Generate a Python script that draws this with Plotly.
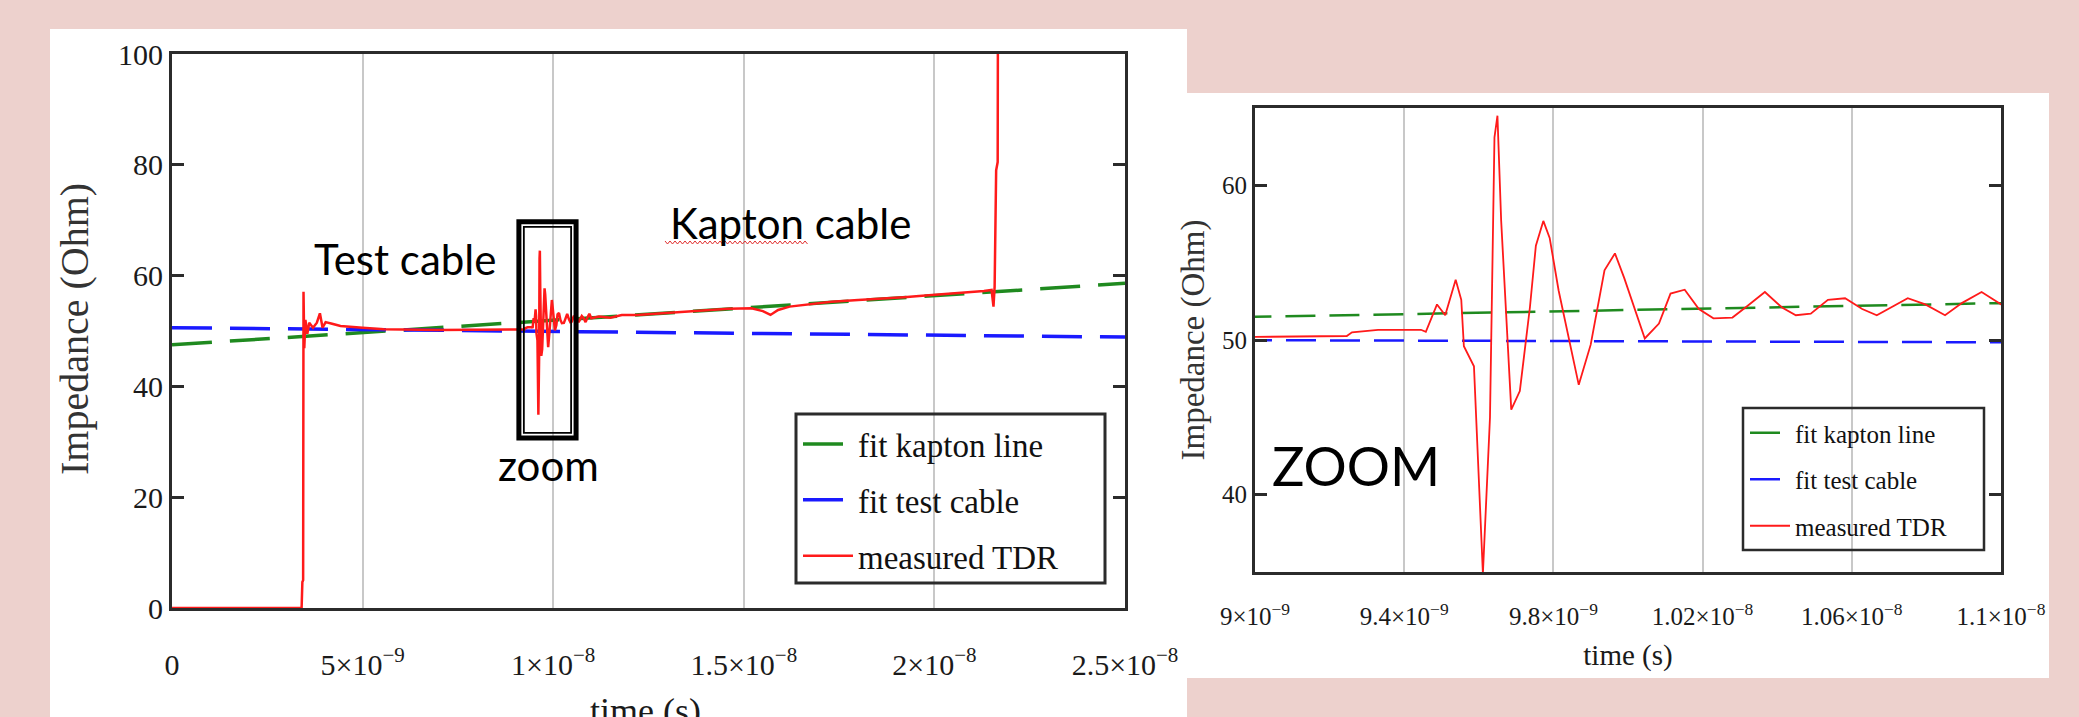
import numpy as np
import plotly.graph_objects as go

W, H = 2079, 717

# Measured TDR impedance profile (time in ns, impedance in Ohm)
tdr_time_ns = [
    0.00, 3.40, 3.42, 3.44, 3.45, 3.47, 3.50, 3.55, 3.60, 3.70, 3.80, 3.88, 3.95,
    4.03, 4.20, 4.42, 5.00, 5.56, 7.00, 9.00,
    9.246, 9.26, 9.33, 9.445, 9.458, 9.488, 9.51, 9.538, 9.553, 9.56, 9.587,
    9.611, 9.63, 9.642, 9.65, 9.66, 9.687, 9.71, 9.737, 9.753, 9.773, 9.79,
    9.814, 9.868, 9.90, 9.937, 9.965, 9.99, 10.045, 10.083, 10.114, 10.152,
    10.19, 10.229, 10.28, 10.32, 10.367, 10.413, 10.45, 10.49, 10.536, 10.582,
    10.628, 10.667, 10.705, 10.75, 10.797, 10.85, 10.896, 10.948, 11.00,
    11.2, 11.5, 11.8, 12.2, 12.6, 13.0, 13.5, 14.0, 14.6, 15.2, 15.5, 15.7,
    15.9, 16.2, 16.8, 17.3, 18.0, 18.6, 19.2, 19.6, 20.2, 20.8, 21.3, 21.50,
    21.55, 21.58, 21.62, 21.66, 21.68, 25.0,
]
tdr_impedance = [
    0.0, 0.0, 4.7, 5.0, 57.1, 46.9, 52.0, 49.5, 51.5, 50.6, 51.5, 53.2, 50.6,
    51.6, 51.3, 50.9, 50.6, 50.3, 50.2, 50.2,
    50.26, 50.5, 50.66, 50.66, 50.53, 52.3, 51.6, 53.9, 52.6, 49.6, 48.3,
    34.9, 45.0, 63.1, 64.5, 57.7, 45.5, 46.7, 52.1, 56.1, 57.7, 56.6,
    53.2, 47.1, 49.7, 54.5, 55.6, 54.0, 50.1, 51.06, 53.0, 53.25,
    52.0, 51.4, 51.45, 52.2, 53.1, 52.1, 51.6, 51.7, 52.6, 52.7,
    52.0, 51.6, 52.1, 52.7, 52.3, 51.6, 52.4, 53.1, 52.3,
    52.6, 52.4, 52.9, 52.9, 53.1, 53.3, 53.5, 53.8, 54.0, 54.1, 53.6, 52.9,
    53.8, 54.4, 54.9, 55.3, 55.6, 55.8, 56.1, 56.3, 56.6, 56.9, 57.2, 57.4,
    54.4, 58.0, 79.0, 80.5, 160.0, 160.0,
]

# Linear fits (end points)
kapton_fit_time_ns = [0.0, 25.0]
kapton_fit_impedance = [47.5, 58.6]
cable_fit_time_ns = [0.0, 25.0]
cable_fit_impedance = [50.6, 48.9]

# Axis ticks
full_ticks_s = [0, 5e-9, 1e-8, 1.5e-8, 2e-8, 2.5e-8]
full_tick_text = ["0", "5×10<sup>−9</sup>", "1×10<sup>−8</sup>", "1.5×10<sup>−8</sup>",
                  "2×10<sup>−8</sup>", "2.5×10<sup>−8</sup>"]
full_ohm_ticks = [0, 20, 40, 60, 80, 100]
zoom_ticks_s = [9e-9, 9.4e-9, 9.8e-9, 1.02e-8, 1.06e-8, 1.1e-8]
zoom_tick_text = ["9×10<sup>−9</sup>", "9.4×10<sup>−9</sup>", "9.8×10<sup>−9</sup>",
                  "1.02×10<sup>−8</sup>", "1.06×10<sup>−8</sup>", "1.1×10<sup>−8</sup>"]
zoom_ohm_ticks = [40, 50, 60]

NS = 1e-9
tdr_t = np.array(tdr_time_ns) * NS
kap_t = np.array(kapton_fit_time_ns) * NS
cab_t = np.array(cable_fit_time_ns) * NS

GREEN = "#1f8a1f"
BLUE = "#1a1aff"
RED = "#ff1a1a"
AXIS = "#2b2b2b"
GRID = "#c8c8c8"
SERIF = "Liberation Serif"
SANS = "Lato"


def fx(px):
    return px / W


def fy(py):
    return 1 - py / H


fig = go.Figure()

# Full time-range view
fig.add_trace(go.Scatter(x=kap_t, y=kapton_fit_impedance, mode="lines", name="fit kapton line",
                         line=dict(color=GREEN, width=3.5, dash="40px,18px"),
                         xaxis="x", yaxis="y", legend="legend", legendgroup="a"))
fig.add_trace(go.Scatter(x=cab_t, y=cable_fit_impedance, mode="lines", name="fit test cable",
                         line=dict(color=BLUE, width=3.5, dash="40px,18px"),
                         xaxis="x", yaxis="y", legend="legend", legendgroup="b"))
fig.add_trace(go.Scatter(x=tdr_t, y=tdr_impedance, mode="lines", name="measured TDR",
                         line=dict(color=RED, width=2.5),
                         xaxis="x", yaxis="y", legend="legend", legendgroup="c"))

# Zoomed view around the connector
fig.add_trace(go.Scatter(x=kap_t, y=kapton_fit_impedance, mode="lines", name="fit kapton line",
                         line=dict(color=GREEN, width=2.5, dash="30px,14px"),
                         xaxis="x2", yaxis="y2", legend="legend2", legendgroup="a2"))
fig.add_trace(go.Scatter(x=cab_t, y=cable_fit_impedance, mode="lines", name="fit test cable",
                         line=dict(color=BLUE, width=2.5, dash="30px,14px"),
                         xaxis="x2", yaxis="y2", legend="legend2", legendgroup="b2"))
fig.add_trace(go.Scatter(x=tdr_t, y=tdr_impedance, mode="lines", name="measured TDR",
                         line=dict(color=RED, width=1.8),
                         xaxis="x2", yaxis="y2", legend="legend2", legendgroup="c2"))

common_axis = dict(showline=True, linecolor=AXIS, linewidth=3, zeroline=False, automargin=False)

fig.update_layout(
    width=W, height=H,
    margin=dict(l=0, r=0, t=0, b=0, autoexpand=False),
    paper_bgcolor="#edd1cd",
    plot_bgcolor="white",
    showlegend=True,
    xaxis=dict(
        domain=[fx(172), fx(1125)], anchor="y", range=[0, 2.5e-8],
        tickmode="array", tickvals=full_ticks_s, ticktext=full_tick_text,
        ticks="", showgrid=True, gridcolor=GRID, gridwidth=1.5, mirror=True,
        ticklabelstandoff=28,
        tickfont=dict(family=SERIF, size=30, color="#1a1a1a"),
        **common_axis),
    yaxis=dict(
        domain=[fy(608), fy(54)], anchor="x", range=[0, 100],
        tickmode="array", tickvals=full_ohm_ticks,
        ticks="inside", ticklen=12, tickwidth=3, tickcolor=AXIS, mirror="ticks",
        showgrid=False,
        tickfont=dict(family=SERIF, size=30, color="#1a1a1a"),
        **common_axis),
    xaxis2=dict(
        domain=[fx(1255), fx(2001)], anchor="y2", range=[9e-9, 1.1e-8],
        tickmode="array", tickvals=zoom_ticks_s, ticktext=zoom_tick_text,
        ticks="", showgrid=True, gridcolor=GRID, gridwidth=1.5, mirror=True,
        ticklabelstandoff=20,
        tickfont=dict(family=SERIF, size=25, color="#1a1a1a"),
        title=dict(text="time (s)", font=dict(family=SERIF, size=29, color="#1a1a1a"), standoff=16),
        **common_axis),
    yaxis2=dict(
        domain=[fy(572), fy(108)], anchor="x2", range=[35, 65],
        tickmode="array", tickvals=zoom_ohm_ticks,
        ticks="inside", ticklen=12, tickwidth=3, tickcolor=AXIS, mirror="ticks",
        showgrid=False,
        tickfont=dict(family=SERIF, size=25, color="#1a1a1a"),
        title=dict(text="Impedance (Ohm)", font=dict(family=SERIF, size=33, color="#333333"), standoff=8),
        **common_axis),
    legend=dict(x=fx(798), y=fy(416), xanchor="left", yanchor="top",
                bgcolor="rgba(0,0,0,0)", borderwidth=0, traceorder="grouped",
                tracegroupgap=10, itemwidth=50,
                font=dict(family=SERIF, size=33, color="#111111")),
    legend2=dict(x=fx(1745), y=fy(410), xanchor="left", yanchor="top",
                 bgcolor="rgba(0,0,0,0)", borderwidth=0, traceorder="grouped",
                 tracegroupgap=11, itemwidth=40,
                 font=dict(family=SERIF, size=25, color="#111111")),
)

shapes = [
    # white panels behind each chart
    dict(type="rect", xref="paper", yref="paper", x0=fx(50), x1=fx(1187), y0=fy(717), y1=fy(29),
         fillcolor="white", line=dict(width=0), layer="below"),
    dict(type="rect", xref="paper", yref="paper", x0=fx(1186), x1=fx(2049), y0=fy(678), y1=fy(93),
         fillcolor="white", line=dict(width=0), layer="below"),
    # legend frames
    dict(type="rect", xref="paper", yref="paper", x0=fx(796), x1=fx(1105), y0=fy(583), y1=fy(414),
         line=dict(color=AXIS, width=3), fillcolor="rgba(0,0,0,0)", layer="above"),
    dict(type="rect", xref="paper", yref="paper", x0=fx(1743), x1=fx(1984), y0=fy(550), y1=fy(408),
         line=dict(color=AXIS, width=2.5), fillcolor="rgba(0,0,0,0)", layer="above"),
    # double frame marking the zoomed region
    dict(type="rect", xref="x", yref="y", x0=9.10e-9, x1=10.60e-9, y0=30.7, y1=69.7,
         line=dict(color="black", width=5), fillcolor="rgba(0,0,0,0)", layer="above"),
    dict(type="rect", xref="x", yref="y", x0=9.23e-9, x1=10.47e-9, y0=31.6, y1=68.8,
         line=dict(color="black", width=1.8), fillcolor="rgba(0,0,0,0)", layer="above"),
]

# spell-check squiggle under "Kapton"
sq_x = np.arange(665, 808, 2.5)
sq_y = np.where(np.arange(len(sq_x)) % 2 == 0, 241, 244)
path = "M " + " L ".join(f"{fx(a):.5f},{fy(b):.5f}" for a, b in zip(sq_x, sq_y))
shapes.append(dict(type="path", xref="paper", yref="paper", path=path,
                   line=dict(color="#e03030", width=1)))
fig.update_layout(shapes=shapes)

labels = [
    ("Test cable", 405, 259, 42),
    ("Kapton cable", 790, 223, 42),
    ("zoom", 548, 465, 42),
    ("ZOOM", 1356, 465, 54),
]
for text, px, py, size in labels:
    fig.add_annotation(text=text, x=fx(px), y=fy(py), xref="paper", yref="paper",
                       xanchor="center", yanchor="middle", showarrow=False,
                       font=dict(family=SANS, size=size, color="black"))

# titles of the full-range panel (the x title runs off the bottom edge)
fig.add_annotation(text="Impedance (Ohm)", x=fx(75), y=fy(329), xref="paper", yref="paper",
                   xanchor="center", yanchor="middle", textangle=-90, showarrow=False,
                   font=dict(family=SERIF, size=40, color="#333333"))
fig.add_annotation(text="time (s)", x=fx(645), y=fy(711), xref="paper", yref="paper",
                   xanchor="center", yanchor="middle", showarrow=False,
                   font=dict(family=SERIF, size=36, color="#1a1a1a"))

fig.write_html("out.html")
